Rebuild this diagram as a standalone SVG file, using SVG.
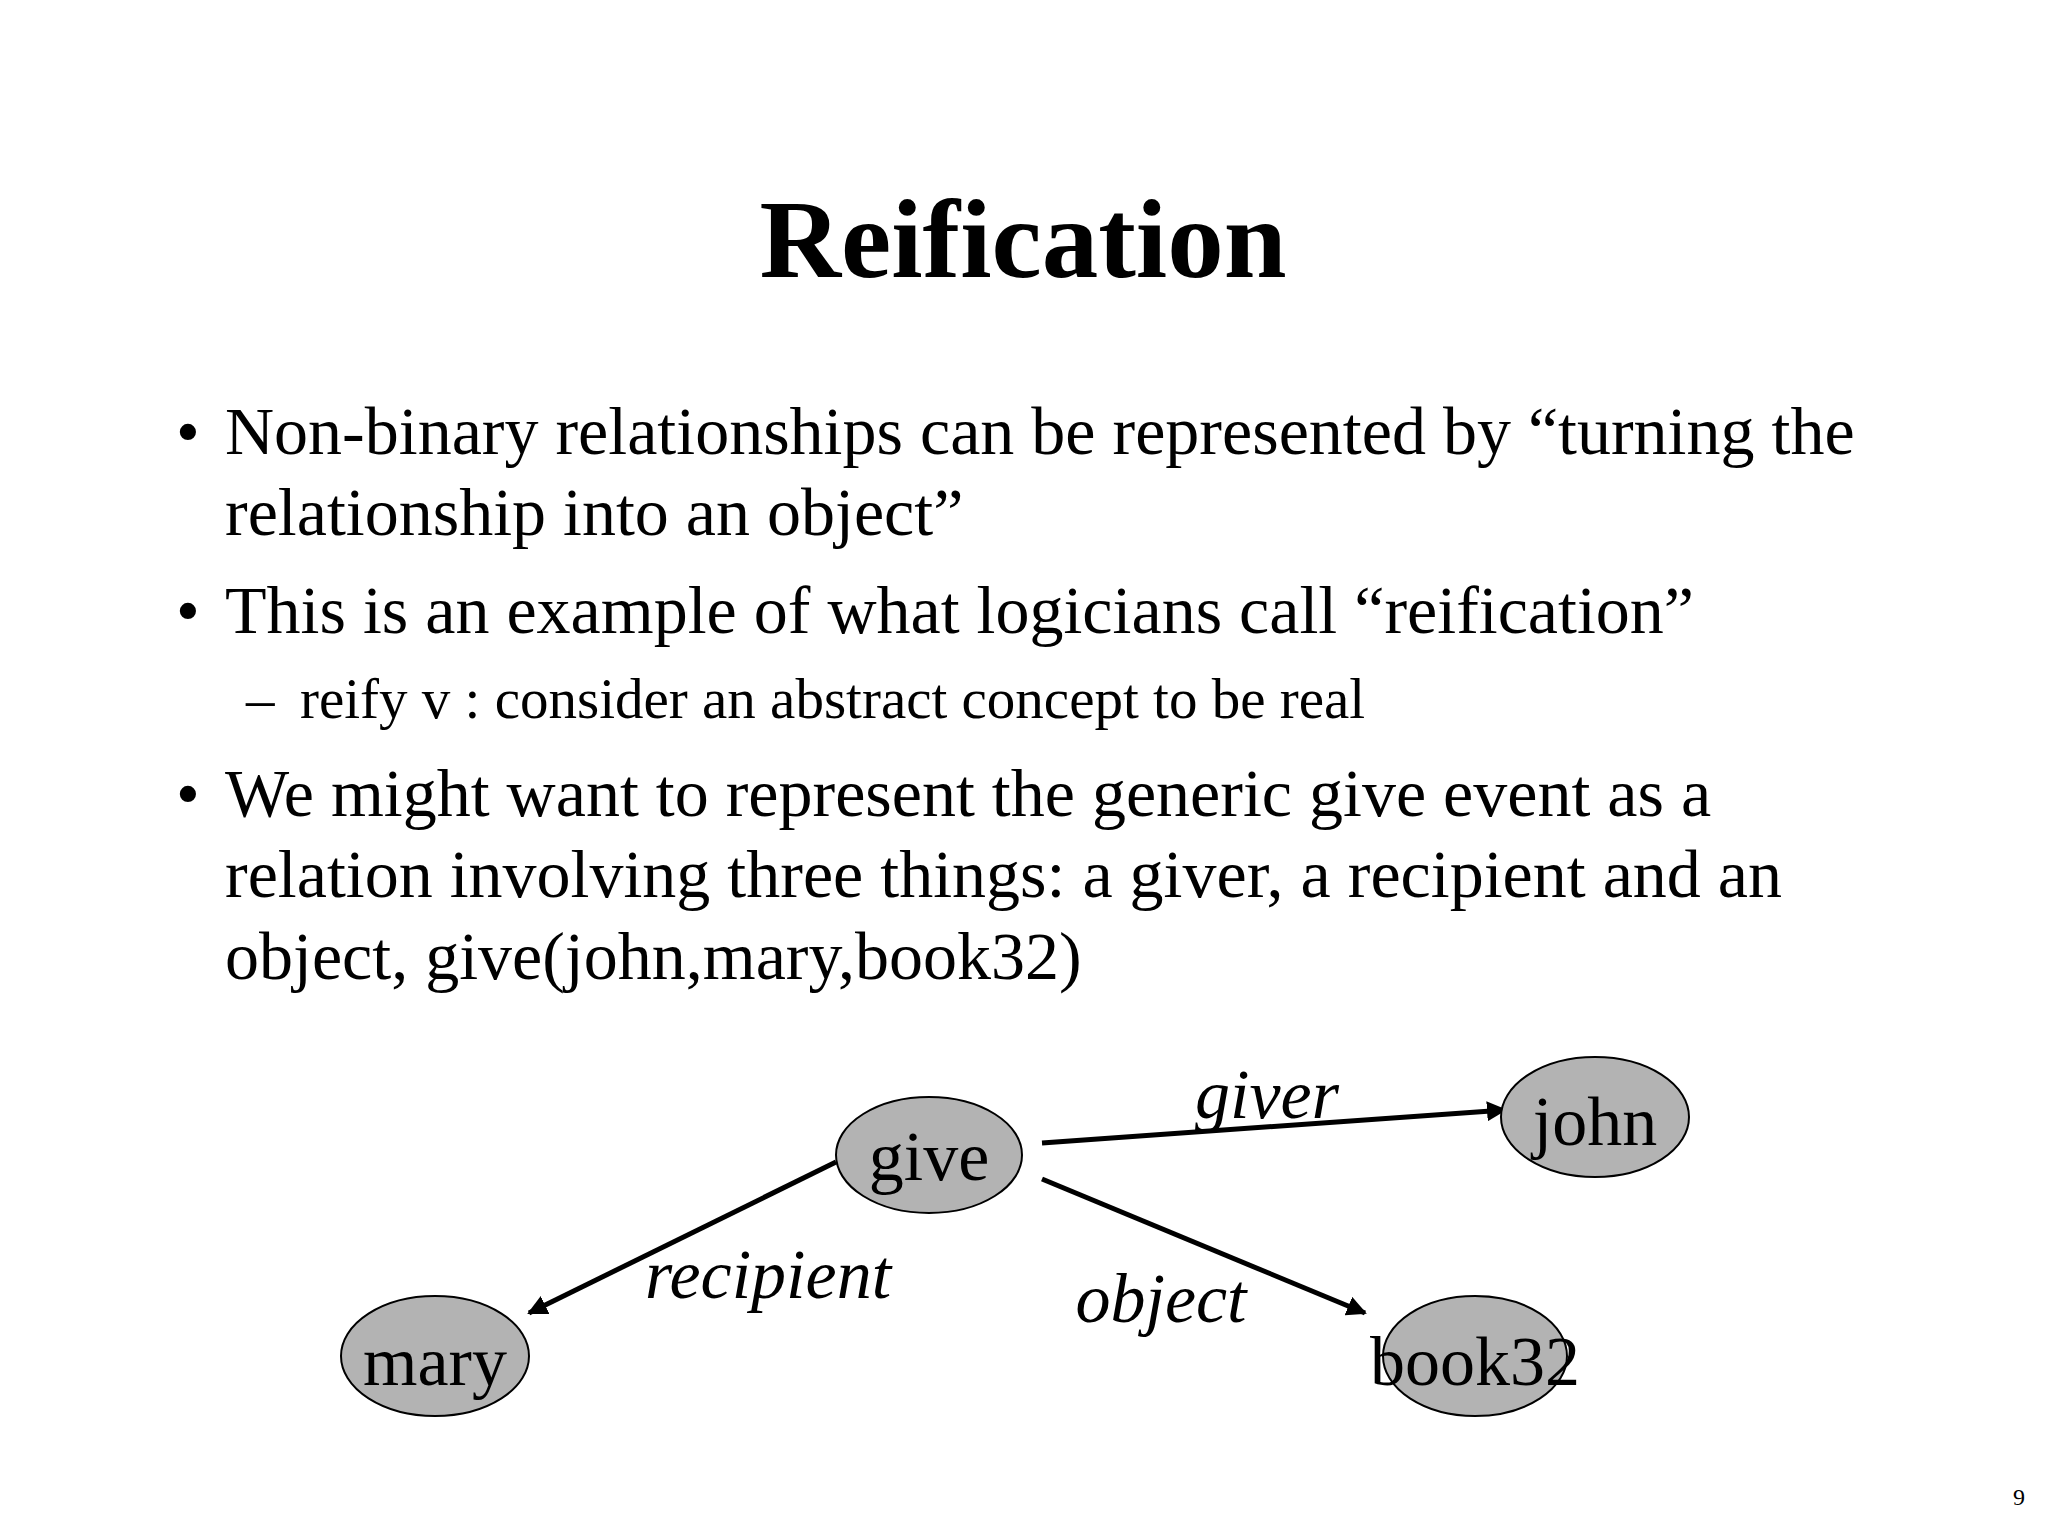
<svg xmlns="http://www.w3.org/2000/svg" width="2048" height="1536" viewBox="0 0 2048 1536">
<style>
text{font-family:"Liberation Serif","Times New Roman",serif;fill:#000}
.b{font-size:68px}
.s{font-size:57px}
.n{font-size:70px;text-anchor:middle}
.l{font-size:70px;font-style:italic;text-anchor:middle}
ellipse{fill:#b3b3b3;stroke:#000;stroke-width:2}
.c line{stroke:#000;stroke-width:5;marker-end:url(#a)}
</style>
<defs><marker id="a" viewBox="0 0 10 10" refX="9" refY="5" markerWidth="4" markerHeight="4" orient="auto"><path d="M0,0L10,5L0,10z" fill="#000"/></marker></defs>
<rect width="2048" height="1536" fill="#fff"/>
<text x="1023" y="277" font-size="113" font-weight="bold" text-anchor="middle">Reification</text>
<g class="b">
<text x="176" y="454">•</text><text x="225" y="454">Non-binary relationships can be represented by “turning the</text>
<text x="225" y="535">relationship into an object”</text>
<text x="176" y="633">•</text><text x="225" y="633">This is an example of what logicians call “reification”</text>
<text x="176" y="816">•</text><text x="225" y="816">We might want to represent the generic give event as a</text>
<text x="225" y="897">relation involving three things: a giver, a recipient and an</text>
<text x="225" y="979">object, give(john,mary,book32)</text>
</g>
<text class="s" x="246" y="718">–</text><text class="s" x="300" y="718">reify v : consider an abstract concept to be real</text>
<g class="c">
<line x1="1042" y1="1143" x2="1505" y2="1110"/>
<line x1="836" y1="1162" x2="529" y2="1313"/>
<line x1="1042" y1="1179" x2="1365" y2="1313"/>
</g>
<g id="give"><ellipse cx="929" cy="1155" rx="93" ry="58"/><text class="n" x="929" y="1180">give</text></g>
<g id="john"><ellipse cx="1595" cy="1117" rx="94" ry="60"/><text class="n" x="1595" y="1145">john</text></g>
<g id="mary"><ellipse cx="435" cy="1356" rx="94" ry="60"/><text class="n" x="435" y="1385">mary</text></g>
<g id="book32"><ellipse cx="1475" cy="1356" rx="92" ry="60"/><text class="n" x="1475" y="1385">book32</text></g>
<text class="l" x="1267" y="1118">giver</text>
<text class="l" x="768" y="1298">recipient</text>
<text class="l" x="1161" y="1322">object</text>
<text x="2019" y="1505" font-size="24" text-anchor="middle">9</text>
</svg>
